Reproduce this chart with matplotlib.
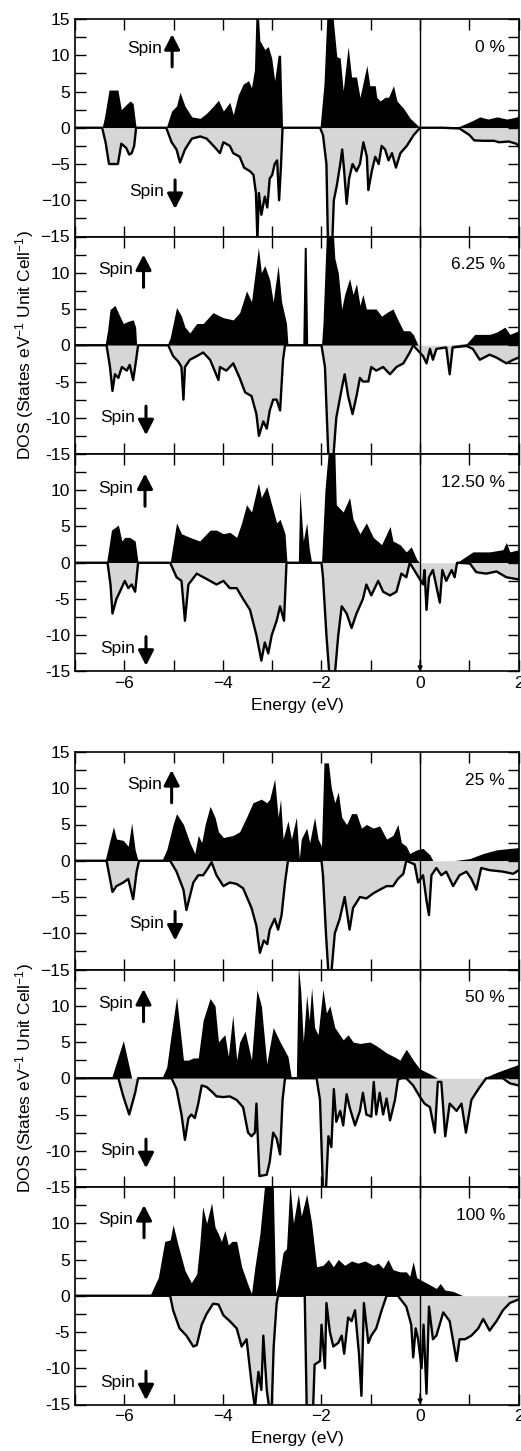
import matplotlib
matplotlib.use("Agg")
import matplotlib.pyplot as plt
from matplotlib.ticker import MultipleLocator, FuncFormatter

plt.rcParams['font.family'] = ['Liberation Sans', 'DejaVu Sans']
plt.rcParams['mathtext.fontset'] = 'custom'
plt.rcParams['mathtext.rm'] = 'Liberation Sans'
plt.rcParams['mathtext.it'] = 'Liberation Sans'

# (energy in eV, DOS); spin-down stored as plotted (negative)
up_00 = [(-7, 0), (-6.45, 0), (-6.40, 1.5), (-6.31, 5.2), (-6.13, 5.2), (-6.06, 2.5), (-5.96, 3.2),
         (-5.88, 3.7), (-5.82, 3.3), (-5.76, 0), (-5.15, 0), (-5.04, 2.3), (-4.94, 3), (-4.87, 4.9),
         (-4.77, 3), (-4.63, 1.5), (-4.46, 1.3), (-4.33, 2), (-4.19, 3), (-4.09, 3.8), (-3.99, 2.3),
         (-3.86, 3.5), (-3.79, 1.8), (-3.69, 4.5), (-3.59, 6), (-3.48, 6.5), (-3.42, 5.5), (-3.36, 8),
         (-3.33, 15.5), (-3.28, 15.5), (-3.25, 12), (-3.15, 10.8), (-3.08, 11.2), (-3.01, 9.6),
         (-2.95, 6.5), (-2.88, 10), (-2.83, 10), (-2.79, 0), (-2.03, 0), (-1.95, 6), (-1.89, 15.5),
         (-1.77, 15.5), (-1.69, 9.8), (-1.62, 9.6), (-1.56, 5.1), (-1.46, 11.2), (-1.39, 7), (-1.29, 7),
         (-1.22, 4.2), (-1.08, 8.6), (-1.02, 5.8), (-0.91, 5.8), (-0.88, 4.2), (-0.81, 3.7), (-0.71, 4.2),
         (-0.64, 4.2), (-0.54, 5.8), (-0.47, 3.7), (-0.34, 2.7), (-0.20, 1.3), (0, 0), (0.46, 0),
         (0.8, 0.2), (1.07, 1.0), (1.21, 1.5), (1.38, 1.2), (1.56, 1.5), (1.76, 1.2), (1.97, 1.5), (2, 2)]
dn_00 = [(-7, 0), (-6.45, 0), (-6.38, -2), (-6.31, -5), (-6.13, -5), (-6.06, -2.2), (-5.96, -2.8),
         (-5.90, -3.7), (-5.85, -3.5), (-5.80, -2.5), (-5.76, 0), (-5.15, 0), (-5.04, -2), (-4.94, -3),
         (-4.87, -4.8), (-4.77, -3), (-4.63, -1.5), (-4.46, -1.2), (-4.33, -1.5), (-4.19, -2.5),
         (-4.06, -3.5), (-3.99, -2), (-3.86, -2.5), (-3.79, -3.5), (-3.66, -4), (-3.57, -5.5),
         (-3.45, -6), (-3.38, -6.5), (-3.33, -9), (-3.30, -15.5), (-3.27, -9), (-3.22, -12),
         (-3.15, -9.5), (-3.10, -11), (-3.05, -7), (-3.0, -6.5), (-2.95, -5), (-2.90, -4.5),
         (-2.86, -10), (-2.82, -5), (-2.79, 0), (-2.03, 0), (-1.97, -1), (-1.90, -5), (-1.87, -15.5),
         (-1.78, -15.5), (-1.75, -10), (-1.69, -8), (-1.62, -5), (-1.58, -3), (-1.54, -6),
         (-1.49, -10.5), (-1.44, -7), (-1.37, -5), (-1.29, -6), (-1.22, -5), (-1.15, -2), (-1.08, -4),
         (-1.05, -8.6), (-0.98, -6), (-0.91, -4), (-0.84, -5), (-0.78, -2.5), (-0.71, -3), (-0.64, -4.5),
         (-0.57, -3.5), (-0.49, -5.5), (-0.40, -3.5), (-0.27, -2.5), (-0.13, -1), (0, 0), (0.46, 0),
         (0.8, -0.1), (1.0, -1), (1.1, -1.75), (1.3, -1.8), (1.5, -1.8), (1.6, -2), (1.8, -1.9),
         (1.95, -2.2), (2, -2.5)]

up_06 = [(-7, 0), (-6.39, 0), (-6.34, 2), (-6.29, 4.9), (-6.19, 5.5), (-6.09, 4), (-6.02, 3), (-5.92, 3.3),
         (-5.82, 3.5), (-5.77, 2.5), (-5.75, 0), (-5.13, 0), (-5.07, 1), (-4.94, 5.2), (-4.84, 4),
         (-4.77, 2.5), (-4.67, 1.7), (-4.53, 3), (-4.40, 3), (-4.20, 4.5), (-3.99, 3.8), (-3.79, 3.5),
         (-3.66, 4.5), (-3.52, 7.5), (-3.42, 6), (-3.28, 13.5), (-3.22, 10), (-3.15, 11), (-3.05, 9),
         (-2.98, 6), (-2.88, 11), (-2.81, 6), (-2.71, 3), (-2.68, 0), (-2.38, 0), (-2.35, 13.5),
         (-2.31, 13.5), (-2.28, 0), (-2.00, 0), (-1.97, 3), (-1.90, 15.5), (-1.76, 15.5), (-1.73, 12),
         (-1.66, 10), (-1.59, 5), (-1.53, 7), (-1.43, 9.2), (-1.36, 7), (-1.29, 8.5), (-1.22, 5.5),
         (-1.16, 7), (-1.09, 5), (-0.95, 5), (-0.89, 5), (-0.78, 4), (-0.68, 4.5), (-0.55, 5),
         (-0.45, 3.5), (-0.34, 2), (-0.21, 2), (-0.14, 1.5), (-0.04, 0), (0.60, 0), (0.94, 0.2),
         (1.11, 1.5), (1.41, 1.5), (1.55, 1.8), (1.72, 2.5), (1.82, 1.5), (2, 2)]
dn_06 = [(-7, 0), (-6.36, 0), (-6.29, -3), (-6.24, -6.3), (-6.19, -4), (-6.12, -4.5), (-6.05, -3),
         (-5.95, -3.5), (-5.89, -2.7), (-5.82, -4.8), (-5.76, -2), (-5.72, 0), (-5.11, 0), (-5.01, -1.5),
         (-4.91, -2.2), (-4.84, -3), (-4.80, -7.5), (-4.77, -3), (-4.67, -2), (-4.53, -1.5), (-4.40, -1),
         (-4.26, -2), (-4.09, -4.8), (-4.06, -3), (-3.93, -3.5), (-3.79, -2.5), (-3.66, -4.5),
         (-3.55, -6.5), (-3.42, -7), (-3.32, -9.5), (-3.27, -12.5), (-3.18, -10.5), (-3.11, -11.5),
         (-3.05, -9), (-2.98, -7.5), (-2.91, -7.5), (-2.84, -9), (-2.78, -2), (-2.74, 0), (-2.00, 0),
         (-1.93, -3), (-1.86, -15.5), (-1.76, -15.5), (-1.70, -10), (-1.59, -6), (-1.53, -4),
         (-1.46, -7), (-1.37, -9.5), (-1.29, -7), (-1.22, -4.5), (-1.16, -5), (-1.05, -5), (-0.99, -3),
         (-0.89, -3.5), (-0.75, -3), (-0.61, -4), (-0.48, -3), (-0.34, -2.5), (-0.21, -1), (-0.14, 0),
         (0.06, -1.5), (0.13, -2.5), (0.20, -0.5), (0.26, -2), (0.33, -0.5), (0.53, -0.3), (0.60, -4),
         (0.66, -0.3), (0.94, -0.1), (1.07, -0.5), (1.21, -2), (1.41, -1.3), (1.55, -1.7), (1.75, -2.5),
         (1.89, -2), (2, -1.7)]

up_12 = [(-7, 0), (-6.36, 0), (-6.26, 4.5), (-6.12, 5.2), (-6.05, 3), (-5.99, 3.5), (-5.89, 3.5),
         (-5.78, 3), (-5.72, 0), (-5.07, 0), (-4.94, 5.5), (-4.84, 4), (-4.67, 3.5), (-4.47, 3),
         (-4.26, 4.5), (-4.13, 4.5), (-3.99, 4), (-3.86, 4.2), (-3.72, 3.5), (-3.62, 5.5), (-3.52, 8),
         (-3.42, 7), (-3.28, 11), (-3.22, 9), (-3.11, 10.5), (-3.01, 8), (-2.91, 5.5), (-2.84, 6),
         (-2.74, 4), (-2.70, 0), (-2.47, 0), (-2.44, 10), (-2.37, 3), (-2.30, 5.5), (-2.25, 2),
         (-2.20, 0), (-2.00, 0), (-1.93, 10), (-1.86, 15.5), (-1.73, 15.5), (-1.70, 8), (-1.56, 7),
         (-1.43, 9), (-1.36, 6), (-1.22, 4), (-1.09, 5.5), (-0.95, 3.5), (-0.78, 2.5), (-0.61, 5),
         (-0.55, 3), (-0.41, 2.5), (-0.28, 1.5), (-0.18, 2.2), (-0.07, 0.5), (-0.01, 0), (0.74, 0),
         (1.07, 1.5), (1.41, 1.5), (1.68, 1.8), (1.75, 2.8), (1.82, 1.5), (2, 1.8)]
dn_12 = [(-7, 0), (-6.34, 0), (-6.28, -3), (-6.24, -7), (-6.16, -5), (-6.09, -4), (-5.99, -2.5),
         (-5.92, -3.5), (-5.85, -3), (-5.78, -4), (-5.72, 0), (-5.07, 0), (-4.94, -2), (-4.84, -2.5),
         (-4.77, -8), (-4.70, -3), (-4.53, -1.5), (-4.26, -2.5), (-4.13, -3), (-3.99, -2.5), (-3.86, -3.5),
         (-3.72, -3.5), (-3.59, -5), (-3.45, -6.5), (-3.32, -10), (-3.22, -13.5), (-3.15, -11),
         (-3.08, -12.5), (-3.01, -10), (-2.91, -8), (-2.84, -6), (-2.76, -8), (-2.71, 0), (-2.00, 0),
         (-1.97, -2), (-1.90, -10), (-1.84, -15.5), (-1.73, -15.5), (-1.66, -10), (-1.59, -6),
         (-1.49, -7), (-1.39, -9), (-1.29, -7), (-1.16, -5), (-1.09, -3), (-0.99, -4.5), (-0.85, -2.5),
         (-0.75, -4), (-0.61, -4.5), (-0.48, -4), (-0.38, -1.5), (-0.28, -2), (-0.21, 0), (0.06, -3),
         (0.09, -1), (0.13, -6.5), (0.18, -2), (0.26, -1), (0.40, -5.5), (0.45, -1), (0.53, -2.5),
         (0.64, -1), (0.70, -2), (0.75, 0), (1.01, -0.1), (1.14, -1.3), (1.34, -1.5), (1.55, -1.2),
         (1.75, -2), (2, -2.3)]

up_25 = [(-7, 0), (-6.39, 0), (-6.32, 2), (-6.22, 4.7), (-6.16, 3), (-6.02, 2.8), (-5.92, 2), (-5.85, 5.2),
         (-5.78, 1.5), (-5.72, 0), (-5.24, 0), (-5.14, 1.5), (-5.01, 5), (-4.94, 6.5), (-4.80, 5),
         (-4.67, 2.5), (-4.57, 1), (-4.50, 3.5), (-4.43, 2.5), (-4.36, 5), (-4.26, 7.5), (-4.16, 6),
         (-4.09, 4), (-3.99, 3.2), (-3.79, 3.5), (-3.66, 4), (-3.52, 6), (-3.39, 8), (-3.22, 8.5),
         (-3.11, 8), (-3.05, 8.5), (-2.95, 11.3), (-2.88, 6), (-2.83, 8.5), (-2.78, 3), (-2.68, 5.5),
         (-2.61, 3), (-2.51, 6), (-2.45, 0.3), (-2.41, 3), (-2.30, 4.5), (-2.24, 2.5), (-2.14, 6),
         (-2.07, 3), (-2.00, 2), (-1.95, 13.5), (-1.86, 13.5), (-1.80, 10), (-1.73, 8), (-1.66, 9.5),
         (-1.59, 6), (-1.49, 5), (-1.39, 6.5), (-1.29, 6.5), (-1.19, 4.5), (-1.09, 5), (-0.95, 4.5),
         (-0.82, 4.8), (-0.68, 3), (-0.55, 3.5), (-0.45, 5), (-0.38, 2.5), (-0.28, 2), (-0.21, 1),
         (-0.07, 1.5), (0.06, 1.7), (0.20, 0.8), (0.26, 0), (0.67, 0), (1.01, 0.3), (1.28, 1),
         (1.55, 1.5), (1.82, 1.7), (2, 1.8)]
dn_25 = [(-7, 0), (-6.36, 0), (-6.29, -2.5), (-6.24, -4.3), (-6.16, -3.5), (-6.02, -3), (-5.92, -2.5),
         (-5.82, -5.3), (-5.75, -1.5), (-5.70, 0), (-5.07, 0), (-4.94, -1.5), (-4.80, -4), (-4.74, -6.8),
         (-4.60, -3), (-4.50, -2), (-4.40, -2), (-4.30, -1), (-4.23, -0.2), (-4.13, -2), (-3.99, -3.5),
         (-3.86, -3), (-3.72, -3.2), (-3.59, -3.8), (-3.42, -6.5), (-3.32, -9), (-3.25, -12.7),
         (-3.17, -11), (-3.10, -11.5), (-3.05, -9.5), (-2.95, -8), (-2.88, -9.5), (-2.81, -7.5),
         (-2.74, -3), (-2.68, 0), (-2.00, 0), (-1.97, -2), (-1.91, -10), (-1.86, -15.5), (-1.80, -15.5),
         (-1.73, -10), (-1.63, -8), (-1.53, -5), (-1.43, -9.5), (-1.36, -6.5), (-1.22, -5), (-1.09, -5.2),
         (-0.95, -4.5), (-0.82, -4), (-0.68, -3.5), (-0.55, -3.5), (-0.45, -2.5), (-0.34, -1.8),
         (-0.28, 0), (-0.11, -0.5), (-0.04, -3), (0.06, -2), (0.13, -5.5), (0.18, -7.5), (0.23, -2),
         (0.33, -1), (0.43, -2), (0.53, -1.5), (0.67, -3.5), (0.80, -2), (0.94, -1.5), (1.04, -2.5),
         (1.14, -4), (1.24, -1), (1.41, -1.3), (1.68, -1.5), (1.89, -1.8), (2, -1.3)]

up_50 = [(-7, 0), (-6.26, 0), (-6.02, 5.2), (-5.85, 0), (-5.24, 0), (-5.14, 1.5), (-5.07, 5), (-4.94, 11.2),
         (-4.80, 2.5), (-4.70, 2.5), (-4.60, 2.8), (-4.50, 2.8), (-4.40, 8), (-4.26, 11), (-4.16, 10),
         (-4.09, 5), (-4.03, 5.5), (-3.96, 6), (-3.89, 3), (-3.80, 8.7), (-3.72, 2.5), (-3.66, 5),
         (-3.55, 6.5), (-3.42, 2.5), (-3.31, 12.2), (-3.22, 10), (-3.11, 2), (-2.98, 7), (-2.84, 5),
         (-2.68, 3), (-2.61, 0), (-2.51, 0), (-2.47, 15.5), (-2.42, 12), (-2.37, 5), (-2.30, 11.5),
         (-2.25, 8), (-2.20, 12.5), (-2.14, 7), (-2.07, 6), (-1.97, 12.3), (-1.90, 9), (-1.83, 10),
         (-1.73, 7), (-1.63, 6), (-1.56, 5.3), (-1.46, 6), (-1.36, 5), (-1.22, 4.8), (-1.02, 5),
         (-0.89, 4.5), (-0.68, 3.5), (-0.48, 2.8), (-0.41, 2.5), (-0.28, 4), (-0.14, 2.5), (-0.01, 1.3),
         (0.20, 0.6), (0.36, 0), (1.28, 0), (1.55, 0.8), (1.75, 1.3), (2, 1.9)]
dn_50 = [(-7, 0), (-6.12, 0), (-6.02, -2.5), (-5.90, -5), (-5.78, -2), (-5.72, 0), (-5.04, 0), (-4.94, -1.5),
         (-4.84, -5), (-4.77, -8.5), (-4.70, -5.5), (-4.64, -5), (-4.57, -5.5), (-4.50, -3.5), (-4.43, -1),
         (-4.33, -1.2), (-4.20, -2), (-4.13, -2.5), (-3.99, -2.6), (-3.86, -2.5), (-3.72, -3), (-3.59, -4),
         (-3.49, -7.5), (-3.42, -8), (-3.35, -7.5), (-3.32, -3.5), (-3.26, -13.5), (-3.11, -13.3),
         (-3.05, -11.5), (-2.98, -7.5), (-2.91, -8.3), (-2.84, -10.5), (-2.79, -3), (-2.74, 0),
         (-2.10, 0), (-2.03, -3), (-1.97, -15.5), (-1.91, -15.5), (-1.86, -8), (-1.80, -9.5),
         (-1.75, -1.5), (-1.70, -6), (-1.62, -4.5), (-1.56, -6.5), (-1.49, -2.2), (-1.43, -4),
         (-1.32, -6.5), (-1.22, -4.5), (-1.16, -2), (-1.09, -5), (-0.99, -5.3), (-0.94, -0.5),
         (-0.89, -5), (-0.82, -2), (-0.75, -5), (-0.68, -2.8), (-0.61, -5.8), (-0.51, -3), (-0.45, -0.2),
         (-0.38, 0), (-0.28, 0), (-0.14, -1), (-0.01, -2.5), (0.09, -3.5), (0.20, -4), (0.30, -7.5),
         (0.36, -0.5), (0.43, -0.5), (0.51, -8), (0.60, -3.5), (0.74, -4.5), (0.84, -3.5), (0.93, -7.5),
         (1.04, -3), (1.18, -1.5), (1.34, 0), (1.68, 0), (1.82, -0.7), (2, -1)]

up_100 = [(-7, 0), (-5.48, 0), (-5.31, 2.5), (-5.18, 7.5), (-5.07, 7.7), (-5.01, 9.8), (-4.91, 7),
          (-4.77, 3.5), (-4.64, 1.8), (-4.53, 3), (-4.47, 7), (-4.41, 12.3), (-4.33, 10), (-4.23, 12.8),
          (-4.16, 9.5), (-4.09, 8.5), (-4.03, 7.5), (-3.96, 9), (-3.89, 7), (-3.82, 7.5), (-3.72, 7.5),
          (-3.62, 4), (-3.49, 1.5), (-3.42, 0.3), (-3.35, 4), (-3.25, 8.5), (-3.15, 15.5), (-2.98, 15.5),
          (-2.93, 0.3), (-2.88, 1.5), (-2.78, 6), (-2.71, 6.5), (-2.64, 15.5), (-2.57, 10), (-2.47, 14),
          (-2.41, 11), (-2.30, 14), (-2.20, 10), (-2.10, 4), (-1.97, 4.2), (-1.86, 5), (-1.76, 4),
          (-1.66, 5), (-1.53, 4.2), (-1.39, 4.8), (-1.26, 4.5), (-1.12, 4.8), (-0.95, 4.2), (-0.85, 4.5),
          (-0.75, 3.8), (-0.65, 5), (-0.55, 3.6), (-0.41, 3.3), (-0.28, 3.3), (-0.21, 2.7), (-0.14, 4.7),
          (-0.07, 2.5), (0.06, 2), (0.20, 1.5), (0.33, 1), (0.41, 1.7), (0.50, 0.8), (0.67, 0.6),
          (0.87, 0), (2, 0)]
dn_100 = [(-7, 0), (-5.07, 0), (-5.01, -2), (-4.88, -4.5), (-4.74, -5.5), (-4.60, -7), (-4.53, -6.8),
          (-4.43, -4), (-4.33, -2.5), (-4.20, -1.1), (-4.09, -1.2), (-3.99, -2.7), (-3.86, -3.5),
          (-3.72, -4.5), (-3.62, -7), (-3.52, -6), (-3.42, -12), (-3.35, -15.5), (-3.28, -10.5),
          (-3.22, -13), (-3.18, -5.5), (-3.11, -13), (-3.06, -15.5), (-3.01, -15.5), (-2.97, -7),
          (-2.91, -1), (-2.88, 0), (-2.34, 0), (-2.30, -15.5), (-2.17, -15.5), (-2.14, -9.5), (-2.03, -9),
          (-2.00, -4), (-1.93, -10), (-1.90, -1), (-1.83, -5), (-1.76, -7), (-1.66, -6.5), (-1.59, -5.5),
          (-1.54, -8), (-1.46, -3), (-1.39, -3.5), (-1.32, -2), (-1.24, -8), (-1.19, -13.8), (-1.14, -1),
          (-1.05, -6.5), (-0.99, -5.5), (-0.89, -4.5), (-0.78, -2), (-0.68, 0), (-0.45, 0), (-0.28, -1.5),
          (-0.18, -4), (-0.14, -8.5), (-0.09, -4.5), (-0.04, -6), (0.03, -10), (0.07, -4), (0.13, -13.5),
          (0.18, -1.5), (0.26, -6), (0.33, -5.5), (0.47, -2.3), (0.60, -3.5), (0.74, -9), (0.80, -6),
          (0.91, -6), (1.04, -5.5), (1.18, -4.5), (1.28, -3.2), (1.41, -4.8), (1.55, -3.5), (1.68, -2),
          (1.82, -1), (2, -0.5)]

labels = ['0 %', '6.25 %', '12.50 %', '25 %', '50 %', '100 %']
ups = [up_00, up_06, up_12, up_25, up_50, up_100]
dns = [dn_00, dn_06, dn_12, dn_25, dn_50, dn_100]

# "Spin" annotation placement per panel: (text x, up text y, up arrow x, down text y, down arrow x)
spin_pos = [(-5.95, 10.9, -5.03, -8.8, -4.97),
            (-6.53, 10.5, -5.61, -10.0, -5.56),
            (-6.53, 10.3, -5.58, -11.8, -5.56),
            (-5.95, 10.5, -5.04, -8.6, -4.97),
            (-6.53, 10.3, -5.61, -10.0, -5.56),
            (-6.53, 10.5, -5.60, -12.0, -5.56)]

W, H = 521, 1451
fig = plt.figure(figsize=(W / 100, H / 100), dpi=100)
fs = 12.5
ph = 217.5
group_tops = [19, 752]
arrow_kw = dict(arrowstyle='-|>,head_width=0.36,head_length=0.7', color='black',
                lw=2.2, mutation_scale=13, shrinkA=0, shrinkB=0)


def hide15(v, pos):
    return '' if abs(v - 15) < 1e-6 else '%g' % v


for k in range(6):
    g, i = divmod(k, 3)
    top_px = group_tops[g] + i * ph
    ax = fig.add_axes([75 / W, 1 - (top_px + ph) / H, 443.7 / W, ph / H])
    e_up = [p[0] for p in ups[k]]
    v_up = [p[1] for p in ups[k]]
    e_dn = [p[0] for p in dns[k]]
    v_dn = [p[1] for p in dns[k]]
    ax.fill_between(e_up, 0, v_up, color='black', lw=0)
    ax.fill_between(e_dn, v_dn, 0, color='#d6d6d6', lw=0)
    ax.plot(e_dn, v_dn, color='black', lw=1.7)
    ax.axvline(0, color='black', lw=1.0, zorder=5)

    ax.set_xlim(-7, 2)
    ax.set_ylim(-15, 15)
    ax.xaxis.set_major_locator(MultipleLocator(2))
    ax.xaxis.set_minor_locator(MultipleLocator(1))
    ax.yaxis.set_major_locator(MultipleLocator(5))
    ax.yaxis.set_minor_locator(MultipleLocator(2.5))
    ax.tick_params(which='both', direction='in', top=True, right=True,
                   length=8, width=1, labelsize=fs)
    for s in ax.spines.values():
        s.set_linewidth(1.2)
    if i > 0:
        ax.yaxis.set_major_formatter(FuncFormatter(hide15))
    if i < 2:
        ax.tick_params(labelbottom=False)
    else:
        ax.annotate('', xy=(0, -15), xytext=(0, -13.5),
                    arrowprops=dict(arrowstyle='-|>', color='black', lw=1,
                                    mutation_scale=7, shrinkA=0, shrinkB=0))

    ax.text(1.72, 11.1, labels[k], ha='right', va='center', fontsize=fs)

    tx, uy, ux, dy, dx = spin_pos[k]
    ax.text(tx, uy, 'Spin', ha='left', va='center', fontsize=fs)
    ax.text(tx + 0.05, dy, 'Spin', ha='left', va='center', fontsize=fs)
    ax.annotate('', xy=(ux, uy + 2.0), xytext=(ux, uy - 2.5), arrowprops=arrow_kw)
    ax.annotate('', xy=(dx, dy - 2.4), xytext=(dx, dy + 1.6), arrowprops=arrow_kw)

for g in range(2):
    top = group_tops[g]
    fig.text(25 / W, 1 - (top + 1.5 * ph) / H, 'DOS (States eV$^{-1}$ Unit Cell$^{-1}$)',
             rotation=90, ha='center', va='center', fontsize=fs)
    fig.text(297 / W, 1 - (top + 3 * ph + 34) / H, 'Energy (eV)',
             ha='center', va='center', fontsize=fs)

fig.savefig('out.png', dpi=100)
